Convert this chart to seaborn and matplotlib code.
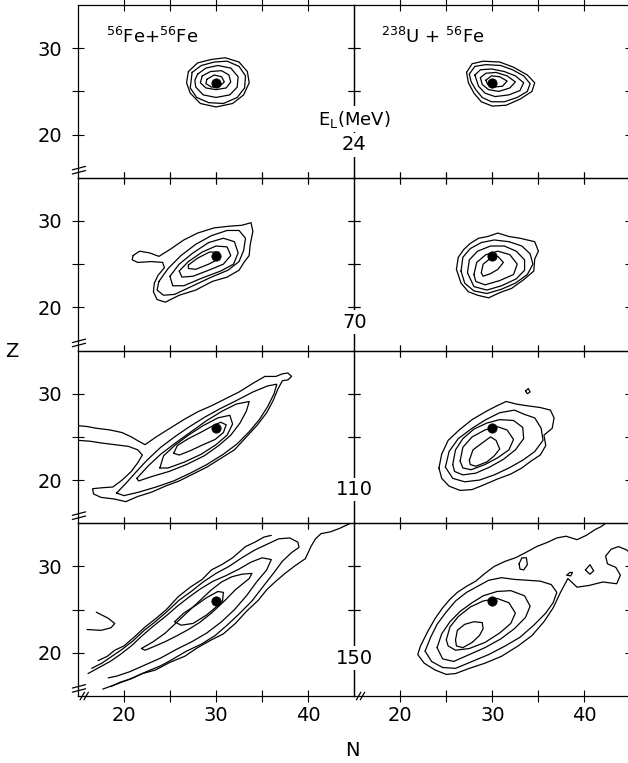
import matplotlib
matplotlib.use("Agg")
import pandas as pd
import seaborn as sns
import matplotlib.pyplot as plt

# row labels (lab energy, MeV) and column labels (reaction)
energies = ["24", "70", "110", "150"]
energy_z = [18.8, 18.3, 18.9, 19.4]
systems = [r"$^{56}$Fe+$^{56}$Fe", r"$^{238}$U + $^{56}$Fe"]

# projectile (N, Z), the black dot in every panel
proj_N = 30
proj_Z = 26

# ---- contour lines, (N, Z) vertices ----
# Fe + Fe, 24 MeV
fefe24_1 = [(27.0,27.3),(28.0,28.3),(29.5,28.7),(31.0,28.9),(32.5,28.4),(33.4,27.3),(33.6,26.0),(33.0,24.6),(31.8,23.6),(30.0,23.2),(28.3,23.6),(27.2,24.8),(26.8,26.0),(27.0,27.3)]
fefe24_2 = [(27.4,27.2),(28.4,28.0),(29.8,28.4),(31.2,28.5),(32.5,27.9),(33.2,26.8),(33.1,25.4),(32.3,24.3),(30.8,23.6),(29.2,23.7),(27.9,24.3),(27.2,25.4),(27.4,27.2)]
fefe24_3 = [(28.0,27.0),(28.9,27.7),(30.2,28.0),(31.6,27.7),(32.4,26.7),(32.3,25.5),(31.5,24.6),(30.0,24.3),(28.6,24.6),(27.8,25.5),(27.7,26.3),(28.0,27.0)]
fefe24_4 = [(28.5,26.8),(29.4,27.3),(30.6,27.4),(31.4,26.9),(31.6,26.1),(31.1,25.4),(30.0,25.2),(28.9,25.4),(28.3,26.0),(28.5,26.8)]
fefe24_5 = [(29.0,26.4),(29.8,26.9),(30.6,26.7),(30.9,26.1),(30.4,25.6),(29.5,25.5),(28.9,25.9),(29.0,26.4)]

# U + Fe, 24 MeV
ufe24_1 = [(27.2,27.2),(27.8,28.2),(29.0,28.5),(30.8,28.4),(32.3,27.8),(33.8,26.9),(34.6,26.0),(34.3,25.0),(33.0,24.1),(31.5,23.4),(30.0,23.3),(28.8,23.8),(28.0,24.8),(27.4,26.0),(27.2,27.2)]
ufe24_2 = [(27.5,27.0),(28.1,27.9),(29.3,28.1),(30.9,28.0),(32.2,27.5),(33.4,26.8),(34.1,25.9),(33.8,25.0),(32.7,24.3),(31.3,23.8),(29.9,23.8),(28.9,24.3),(28.2,25.2),(27.7,26.1),(27.5,27.0)]
ufe24_3 = [(28.1,26.9),(28.7,27.5),(29.9,27.6),(31.3,27.3),(32.5,26.8),(33.4,26.0),(33.0,25.1),(31.8,24.6),(30.3,24.4),(29.2,24.8),(28.5,25.6),(28.1,26.9)]
ufe24_4 = [(28.7,26.6),(29.3,27.1),(30.4,27.2),(31.6,26.8),(32.5,26.1),(31.9,25.4),(30.7,25.0),(29.6,25.2),(28.9,25.8),(28.7,26.6)]
ufe24_5 = [(29.3,26.3),(29.9,26.8),(30.8,26.7),(31.6,26.2),(31.1,25.6),(30.1,25.5),(29.5,25.8),(29.3,26.3)]

# Fe + Fe, 70 MeV
fefe70_1 = [(21.0,26.0),(21.7,26.5),(22.8,26.3),(23.8,25.9),(25.0,26.7),(26.5,27.8),(28.0,28.6),(29.8,29.2),(31.5,29.4),(32.8,29.5),(33.8,29.8),(34.0,28.8),(33.7,27.2),(33.6,26.0),(33.1,25.3),(32.5,24.3),(31.2,23.5),(29.6,23.0),(27.8,22.0),(26.0,21.4),(24.5,20.6),(23.6,20.9),(23.2,21.8),(23.3,22.8),(23.7,23.7),(24.4,24.6),(24.2,25.2),(23.0,25.3),(21.5,25.2),(20.9,25.5),(21.0,26.0)]
fefe70_2 = [(23.8,23.0),(24.8,24.5),(26.2,26.0),(27.8,27.3),(29.5,28.3),(31.2,28.9),(32.5,28.9),(33.2,28.0),(33.0,26.6),(32.5,25.3),(31.3,24.3),(29.5,23.5),(27.5,22.5),(25.5,21.5),(24.3,21.4),(23.6,22.0),(23.8,23.0)]
fefe70_3 = [(25.0,23.6),(26.0,25.0),(27.5,26.3),(29.2,27.5),(30.8,28.0),(32.0,27.6),(32.4,26.3),(31.9,25.0),(30.5,24.2),(28.5,23.4),(26.5,22.5),(25.3,22.5),(25.0,23.6)]
fefe70_4 = [(26.0,24.2),(27.0,25.3),(28.5,26.4),(30.0,27.1),(31.2,27.0),(31.6,26.0),(30.8,25.0),(29.2,24.3),(27.5,23.6),(26.3,23.5),(26.0,24.2)]
fefe70_5 = [(27.0,24.9),(28.0,25.7),(29.3,26.4),(30.3,26.4),(30.3,25.6),(29.2,25.0),(27.8,24.4),(27.0,24.5),(27.0,24.9)]

# U + Fe, 70 MeV
ufe70_1 = [(26.1,24.4),(26.3,25.8),(26.9,26.7),(27.6,27.4),(28.5,28.0),(29.5,28.2),(30.6,28.6),(31.8,28.2),(33.0,28.0),(34.6,27.6),(35.0,26.5),(34.6,25.6),(34.5,24.2),(33.4,23.2),(32.1,22.2),(30.8,21.7),(29.6,21.1),(28.4,21.4),(27.4,21.8),(26.6,22.8),(26.1,24.4)]
ufe70_2 = [(26.6,24.2),(26.8,25.8),(27.6,26.8),(28.8,27.5),(30.2,27.8),(31.8,27.6),(33.2,27.1),(34.1,26.2),(34.4,25.0),(33.8,23.8),(32.5,22.8),(31.0,22.1),(29.4,21.6),(28.0,21.9),(27.0,22.8),(26.6,24.2)]
ufe70_3 = [(27.3,24.0),(27.5,25.5),(28.4,26.5),(29.8,27.1),(31.3,27.1),(32.6,26.5),(33.5,25.5),(33.5,24.3),(32.6,23.3),(31.0,22.5),(29.4,22.0),(28.0,22.4),(27.3,24.0)]
ufe70_4 = [(28.0,23.8),(28.3,25.2),(29.3,26.1),(30.6,26.5),(31.9,26.1),(32.7,25.0),(32.3,23.8),(30.8,23.1),(29.2,22.6),(28.2,23.0),(28.0,23.8)]
ufe70_5 = [(28.8,24.0),(29.0,25.0),(29.8,25.7),(30.6,25.9),(31.2,25.2),(30.6,24.4),(29.8,23.9),(29.0,23.6),(28.8,24.0)]

# Fe + Fe, 110 MeV
fefe110_1 = [(15.0,26.3),(16.0,26.2),(17.0,26.0),(18.5,25.8),(19.8,25.5),(20.8,25.0),(21.6,24.5),(22.3,24.1),(23.5,25.0),(25.0,26.0),(26.5,27.0),(28.0,27.9),(29.5,28.6),(31.0,29.4),(32.5,30.2),(34.0,31.2),(35.3,32.0),(36.5,32.0),(37.2,32.3),(37.8,32.4),(38.2,32.0),(37.8,31.6),(37.2,31.5),(36.7,30.5),(36.2,29.2),(35.5,27.8),(34.5,26.4),(33.3,25.0),(32.0,23.5),(30.5,22.5),(29.0,21.5),(27.5,20.7),(26.0,19.9),(24.5,19.3),(23.0,18.6),(21.5,18.1),(20.2,17.5),(19.0,17.8),(17.5,18.0),(16.7,18.4),(16.6,19.0),(17.5,19.1),(18.8,19.2),(19.8,20.0),(20.8,21.0),(21.5,22.0),(22.0,22.9),(21.5,23.5),(20.5,23.9),(19.0,24.1),(17.5,24.3),(16.3,24.5),(15.0,24.6)]
fefe110_2 = [(19.2,18.5),(20.2,19.6),(21.2,20.8),(22.5,22.3),(24.0,23.8),(25.5,25.0),(27.0,26.1),(28.8,27.3),(30.5,28.3),(32.2,29.2),(34.0,30.2),(35.6,30.9),(36.6,31.1),(36.3,30.0),(35.6,28.5),(34.7,27.0),(33.6,25.6),(32.3,24.2),(30.8,23.0),(29.0,21.8),(27.2,20.8),(25.4,19.9),(23.5,19.2),(21.6,18.6),(20.0,18.2),(19.2,18.5)]
fefe110_3 = [(21.4,20.2),(22.6,21.6),(24.0,23.0),(25.6,24.3),(27.3,25.6),(29.0,26.9),(30.7,28.0),(32.2,28.8),(33.6,29.1),(33.3,28.0),(32.6,26.6),(31.6,25.2),(30.3,24.0),(28.7,22.8),(26.8,21.8),(24.9,21.0),(23.0,20.4),(21.6,19.9),(21.4,20.2)]
fefe110_4 = [(23.9,21.4),(24.3,22.8),(25.5,24.0),(27.0,25.2),(28.6,26.3),(30.2,27.2),(31.5,27.5),(31.8,26.5),(31.2,25.2),(30.0,24.1),(28.4,23.0),(26.6,22.1),(24.8,21.4),(23.9,21.4)]
fefe110_5 = [(25.4,23.1),(25.8,24.0),(27.0,24.8),(28.3,25.5),(29.5,26.2),(30.5,26.7),(31.1,26.4),(30.8,25.5),(29.9,24.7),(28.6,24.1),(27.2,23.4),(26.0,22.9),(25.4,23.1)]

# U + Fe, 110 MeV
ufe110_1 = [(24.2,21.4),(24.5,23.0),(25.2,24.6),(26.4,25.8),(27.8,27.0),(29.4,28.0),(30.5,28.6),(31.5,29.1),(32.6,28.8),(33.8,28.6),(35.2,28.4),(36.3,28.1),(36.7,27.2),(36.5,26.0),(35.6,25.2),(35.8,24.0),(35.2,22.9),(34.2,22.2),(33.2,21.4),(32.0,20.7),(30.5,20.1),(29.2,19.5),(27.8,18.9),(26.5,18.8),(25.3,19.3),(24.5,20.2),(24.2,21.4)]
ufe110_2 = [(24.9,21.5),(25.3,23.3),(26.3,24.8),(27.8,26.0),(29.3,27.0),(30.8,27.8),(32.4,28.1),(33.5,27.6),(34.6,27.2),(35.3,26.0),(35.5,24.6),(34.6,23.3),(33.3,22.3),(31.8,21.4),(30.2,20.6),(28.6,20.0),(27.0,19.8),(25.7,20.2),(24.9,21.5)]
ufe110_3 = [(25.7,21.8),(26.0,23.5),(26.8,24.8),(28.0,25.9),(29.4,26.6),(30.8,27.0),(32.3,26.9),(33.3,26.1),(33.4,24.8),(32.5,23.5),(31.2,22.4),(29.7,21.5),(28.2,20.8),(26.8,20.6),(25.9,21.0),(25.7,21.8)]
ufe110_4 = [(26.5,22.2),(26.8,23.8),(27.8,25.0),(29.2,25.8),(30.5,26.2),(31.6,25.8),(32.3,24.7),(31.8,23.5),(30.6,22.6),(29.2,21.8),(27.7,21.2),(26.8,21.4),(26.5,22.2)]
ufe110_5 = [(27.5,22.3),(27.9,23.5),(28.9,24.3),(29.8,25.0),(30.4,24.6),(30.8,23.6),(30.2,22.8),(29.4,22.1),(28.2,21.6),(27.6,21.8),(27.5,22.3)]
ufe110_6 = [(33.6,30.3),(33.9,30.6),(34.1,30.2),(33.8,30.0),(33.6,30.3)]

# Fe + Fe, 150 MeV
fefe150_1 = [(17.2,19.1),(18.2,19.6),(19.0,20.3),(20.0,20.8),(21.2,21.9),(22.3,23.0),(23.5,24.0),(24.6,25.0),(25.9,26.5),(27.2,27.6),(28.5,28.5),(29.5,29.6),(30.6,30.2),(31.8,31.0),(33.2,32.3),(34.2,32.8),(35.2,33.4),(36.0,33.6)]
fefe150_2 = [(17.7,15.8),(19.0,16.3),(20.5,16.9),(22.0,17.6),(23.4,18.0),(25.0,18.9),(26.6,19.6),(28.0,20.6),(29.5,21.5),(30.8,22.2),(32.1,23.4),(33.3,24.8),(34.6,26.1),(35.5,27.3),(36.4,28.2),(37.5,29.2),(38.6,30.1),(39.7,30.9),(40.3,32.3),(40.8,33.2),(41.4,33.8),(42.4,34.0),(43.4,34.4),(44.6,35.0)]
fefe150_3 = [(16.5,18.2),(17.6,18.8),(18.7,19.6),(19.8,20.4),(21.0,21.4),(22.2,22.6),(23.4,23.6),(24.7,24.8),(26.0,26.1),(27.3,27.1),(28.6,28.2),(30.0,29.2),(31.4,30.0),(32.8,31.0),(34.2,31.9),(35.6,32.6),(36.8,33.2),(38.0,33.3),(38.9,32.8),(39.0,32.2),(38.2,31.6),(37.2,30.6),(36.3,29.3),(35.2,27.8),(33.9,26.0),(32.6,24.6),(31.2,23.2),(29.9,22.0),(28.4,21.0),(26.8,20.2),(25.2,19.2),(24.0,18.5),(22.4,17.8),(20.8,17.0),(19.6,16.6),(18.6,16.1)]
fefe150_4 = [(16.1,17.6),(17.3,18.3),(18.5,19.0),(19.6,19.8),(20.8,20.8),(22.0,22.0),(23.2,23.1),(24.5,24.2),(25.8,25.4),(27.0,26.4),(28.3,27.4),(29.7,28.3),(31.0,28.9),(32.5,29.7),(33.8,30.5),(35.0,31.0),(36.0,30.8),(35.5,29.6),(34.4,28.2),(33.3,26.6),(32.0,25.0),(30.6,23.6),(29.0,22.3),(27.4,21.3),(25.7,20.4),(24.0,19.4),(22.3,18.6),(20.6,17.8),(19.2,17.3),(18.3,17.1)]
fefe150_5 = [(21.9,20.5),(23.2,21.3),(24.5,22.3),(25.8,23.6),(27.0,24.8),(28.2,26.0),(29.5,27.3),(30.6,28.2),(31.7,28.8),(32.8,29.1),(33.9,29.2),(33.6,28.6),(32.1,27.3),(31.0,26.1),(29.5,24.6),(28.2,23.5),(27.0,22.7),(25.8,22.0),(24.5,21.3),(23.2,20.7),(22.3,20.3),(21.9,20.5)]
fefe150_6 = [(25.5,23.6),(26.5,24.6),(27.8,25.5),(29.0,26.4),(30.2,27.1),(30.8,27.0),(30.7,26.0),(30.0,25.3),(29.0,24.4),(27.5,23.4),(26.2,23.2),(25.5,23.6)]
fefe150_7 = [(16.0,22.7),(17.5,22.6),(18.6,22.9),(19.0,23.4),(18.3,24.0),(17.0,24.7)]

# U + Fe, 150 MeV
ufe150_1 = [(45.0,31.5),(44.6,31.9),(43.7,32.3),(42.9,32.0),(42.3,31.2),(42.5,30.3),(43.4,29.9),(43.9,29.0),(43.5,28.0),(42.0,28.2),(40.5,27.8),(39.2,27.6),(38.2,28.6),(37.4,27.0),(36.6,25.2),(35.6,23.6),(34.3,22.0),(32.8,20.8),(31.0,19.6),(29.2,18.8),(27.5,18.2),(26.0,17.6),(25.0,17.5),(23.8,18.0),(22.6,18.8),(21.9,19.8),(22.2,20.8),(23.0,22.5),(23.8,24.0),(24.6,25.2),(25.4,26.2),(26.2,27.0),(27.2,27.7),(28.2,28.3),(29.2,29.2),(30.2,30.0),(31.4,30.6),(32.5,31.0),(33.6,31.6),(34.8,32.3),(36.0,32.8),(37.0,33.3),(38.0,33.5),(39.2,33.1),(40.2,33.6),(41.2,34.3),(41.8,34.6),(42.3,35.0)]
ufe150_2 = [(22.7,20.2),(23.3,21.8),(24.0,23.3),(24.9,24.6),(26.0,26.0),(27.2,27.0),(28.4,27.7),(29.6,28.4),(31.0,28.7),(32.4,28.5),(33.8,28.4),(35.2,28.3),(36.4,27.9),(37.0,27.0),(36.6,25.8),(35.8,24.6),(34.5,23.2),(33.0,21.8),(31.4,20.8),(29.6,19.8),(27.8,19.0),(26.0,18.2),(24.6,18.3),(23.4,19.0),(22.7,20.2)]
ufe150_3 = [(24.0,20.6),(24.5,22.2),(25.4,23.6),(26.5,24.8),(27.8,25.8),(29.0,26.6),(30.5,27.1),(32.0,27.2),(33.5,26.6),(34.1,25.4),(33.6,24.1),(32.4,22.8),(30.9,21.6),(29.2,20.6),(27.5,19.8),(25.8,19.0),(24.6,19.3),(24.0,20.6)]
ufe150_4 = [(25.0,21.5),(25.4,23.0),(26.3,24.2),(27.6,25.3),(29.0,26.0),(30.5,26.3),(31.8,25.8),(32.5,24.6),(32.0,23.4),(30.8,22.3),(29.2,21.2),(27.5,20.5),(26.0,20.3),(25.2,20.8),(25.0,21.5)]
ufe150_5 = [(26.0,21.5),(26.2,22.6),(27.0,23.3),(28.0,23.6),(28.9,23.5),(29.0,22.8),(28.6,22.0),(27.8,21.2),(26.8,20.6),(26.1,20.8),(26.0,21.5)]
ufe150_6 = [(32.9,30.3),(33.2,31.0),(33.7,31.0),(33.8,30.2),(33.4,29.6),(33.0,29.7),(32.9,30.3)]
ufe150_7 = [(38.1,29.0),(38.4,29.3),(38.7,29.3),(38.5,28.9),(38.1,29.0)]
ufe150_8 = [(40.1,29.6),(40.6,30.2),(41.0,29.5),(40.6,29.1),(40.1,29.6)]

panels = [
    [[fefe24_1, fefe24_2, fefe24_3, fefe24_4, fefe24_5],
     [ufe24_1, ufe24_2, ufe24_3, ufe24_4, ufe24_5]],
    [[fefe70_1, fefe70_2, fefe70_3, fefe70_4, fefe70_5],
     [ufe70_1, ufe70_2, ufe70_3, ufe70_4, ufe70_5]],
    [[fefe110_1, fefe110_2, fefe110_3, fefe110_4, fefe110_5],
     [ufe110_1, ufe110_2, ufe110_3, ufe110_4, ufe110_5, ufe110_6]],
    [[fefe150_1, fefe150_2, fefe150_3, fefe150_4, fefe150_5, fefe150_6, fefe150_7],
     [ufe150_1, ufe150_2, ufe150_3, ufe150_4, ufe150_5, ufe150_6, ufe150_7, ufe150_8]],
]

sns.set_style("ticks")
plt.rcParams["font.family"] = ["DejaVu Sans"]
plt.rcParams["axes.linewidth"] = 0.9
plt.rcParams["text.color"] = "black"
plt.rcParams["xtick.color"] = "black"
plt.rcParams["ytick.color"] = "black"
plt.rcParams["xtick.labelcolor"] = "black"
plt.rcParams["ytick.labelcolor"] = "black"

fig, axes = plt.subplots(4, 2, figsize=(6.28, 7.63), dpi=100, sharex=True, sharey=True)
fig.subplots_adjust(left=0.124, right=1.004, top=0.9934, bottom=0.0878, hspace=0, wspace=0)


def left_break(ax):
    # "//" across the left spine just above the lower corner
    for dy in (0.0, 0.024):
        ax.plot([-0.02, 0.028], [0.022 + dy, 0.042 + dy], transform=ax.transAxes,
                color="black", lw=0.9, clip_on=False, zorder=6)


def bottom_break(ax):
    # "//" across the bottom spine near the left corner
    for dx in (0.0, 0.014):
        ax.plot([0.008 + dx, 0.024 + dx], [-0.022, 0.022], transform=ax.transAxes,
                color="black", lw=0.9, clip_on=False, zorder=6)


for r in range(4):
    for c in range(2):
        ax = axes[r, c]
        ax.set_facecolor("none")
        for line in panels[r][c]:
            df = pd.DataFrame(line, columns=["N", "Z"])
            sns.lineplot(data=df, x="N", y="Z", sort=False, estimator=None,
                         color="black", lw=0.9, ax=ax)
        sns.scatterplot(x=[proj_N], y=[proj_Z], color="black", s=45,
                        edgecolor="black", ax=ax, zorder=5)
        ax.set_xlim(15, 45)
        ax.set_ylim(15, 35)
        ax.set_xticks([20, 25, 30, 35, 40])
        ax.set_xticklabels(["20", "", "30", "", "40"])
        ax.set_yticks([20, 25, 30])
        ax.set_yticklabels(["20", "", "30"])
        ax.tick_params(direction="inout", length=8, width=0.8, top=True, right=True,
                       labelsize=14, color="black", labelcolor="black")
        ax.tick_params(axis="x", pad=3)
        ax.tick_params(axis="y", pad=7)
        ax.set_xlabel("")
        ax.set_ylabel("")
        for sp in ax.spines.values():
            sp.set_color("black")
        if c == 0:
            left_break(ax)
        if r == 3:
            bottom_break(ax)

# reaction labels
axes[0, 0].text(18.0, 30.6, systems[0], fontsize=13, ha="left", va="baseline", color="black")
axes[0, 1].text(17.9, 30.6, systems[1], fontsize=13, ha="left", va="baseline", color="black")

# energy labels sitting on the centre divider
white = dict(facecolor="white", edgecolor="none", pad=1.5)
axes[0, 1].text(15, 21.8, r"E$_{\rm L}$(MeV)", fontsize=13, ha="center", va="center",
                bbox=white, zorder=10, clip_on=False, color="black")
for r in range(4):
    axes[r, 1].text(15, energy_z[r], energies[r], fontsize=14, ha="center", va="center",
                    bbox=white, zorder=10, clip_on=False, color="black")

fig.text(12 / 628, 1 - 352 / 763, "Z", fontsize=14, ha="center", va="center", color="black")
fig.text(352 / 628, 1 - 750 / 763, "N", fontsize=14, ha="center", va="center", color="black")

plt.savefig("out.png", dpi=100)
